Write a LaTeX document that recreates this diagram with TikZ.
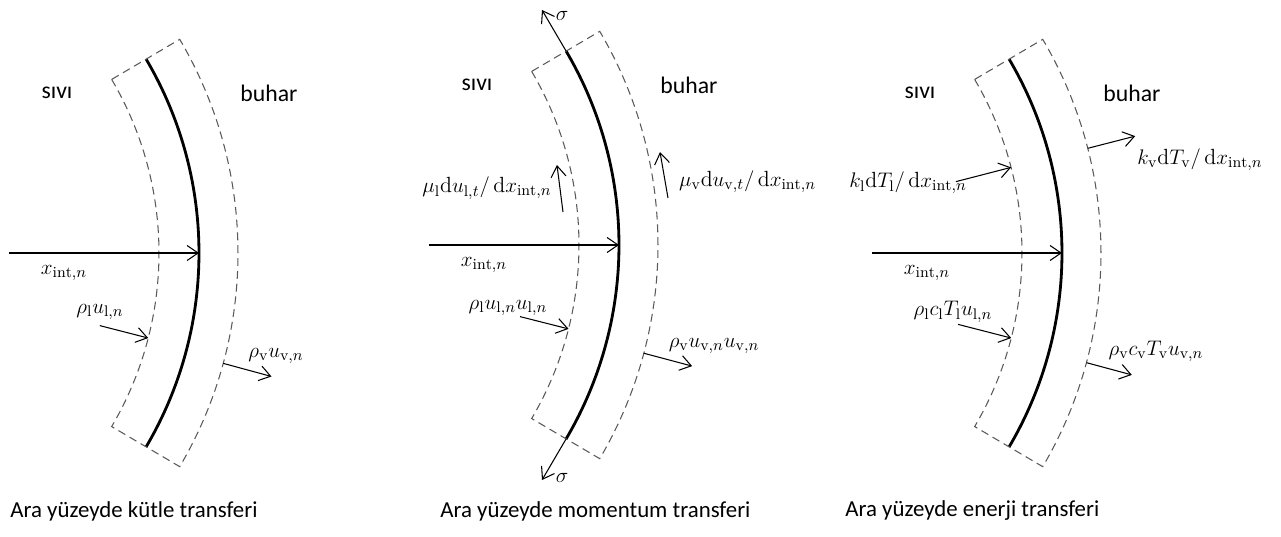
\documentclass[tikz,border=0pt]{standalone}
\usepackage{amsmath}
\usepackage{fontspec}
\setsansfont{Carlito}
\usetikzlibrary{arrows.meta}

\begin{document}
\begin{tikzpicture}[
    iface/.style={line width=1.6pt},
    ctrl/.style={draw=black!65, line width=0.6pt, dash pattern=on 4.5pt off 2.8pt},
    e/.style={-{Straight Barb[length=2.2mm, width=3mm]}, line width=0.6pt},
    lbl/.style={font=\fontsize{12.5}{15}\selectfont, inner sep=1pt},
    phase/.style={font=\sffamily\fontsize{13.5}{16}\selectfont},
    capt/.style={font=\sffamily\fontsize{13}{15}\selectfont, anchor=west, inner sep=0pt},
  ]
  \useasboundingbox (0,0) rectangle (25.62,-10.74);
  \coordinate (c1) at (-3.66,-5.06);
  \coordinate (c2) at (4.74,-4.90);
  \coordinate (c3) at (13.60,-5.06);

  % interface, control volume and normal distance, same in all three panels
  \foreach \p in {1,2,3} {
    \begin{scope}[shift={(c\p)}]
      \draw[iface] (30.5:7.64) arc[start angle=30.5, end angle=-30.5, radius=7.64];
      \draw[ctrl] (30.5:6.84) arc[start angle=30.5, end angle=-30.5, radius=6.84]
        -- (-30.5:8.42) arc[start angle=-30.5, end angle=30.5, radius=8.42] -- cycle;
      \coordinate (in\p) at (3.84,0);
      \coordinate (ap\p) at (7.64,0);
      \draw[e] (in\p) -- (ap\p);
      \node[lbl] (xi\p) at (4.94,-0.40) {$x_{\mathrm{int},n}$};
      \node[phase] (liq\p) at (4.80,3.20) {sıvı};
      \node[phase] (vap\p) at (9.04,3.20) {buhar};
    \end{scope}
  }

  % mass
  \begin{scope}[shift={(c1)}]
    \coordinate (ml0) at (-14.4:5.84);
    \coordinate (ml1) at (-14.4:6.84);
    \coordinate (mv0) at (-15.2:8.42);
    \coordinate (mv1) at (-15.2:9.42);
    \draw[e] (ml0) -- (ml1);
    \draw[e] (mv0) -- (mv1);
    \node[lbl] (mll) at (5.66,-1.18) {$\rho_{\mathrm{l}}u_{\mathrm{l},n}$};
    \node[lbl] (mvl) at (9.18,-2.06) {$\rho_{\mathrm{v}}u_{\mathrm{v},n}$};
  \end{scope}

  % momentum
  \begin{scope}[shift={(c2)}]
    \coordinate (sa) at (30.5:7.64);
    \coordinate (sb) at (-30.5:7.64);
    \coordinate (st) at (6.10,4.70);
    \coordinate (ss) at (6.10,-4.70);
    \draw[e] (sa) -- (st);
    \draw[e] (sb) -- (ss);
    \node[lbl] (sgt) at (6.50,4.58) {$\sigma$};
    \node[lbl] (sgb) at (6.50,-4.66) {$\sigma$};
    \coordinate (tl0) at (6.52,0.66);
    \coordinate (tl1) at (6.40,1.60);
    \coordinate (tv0) at (8.62,0.94);
    \coordinate (tv1) at (8.46,1.86);
    \draw[e] (tl0) -- (tl1);
    \draw[e] (tv0) -- (tv1);
    \node[lbl] (tll) at (5.00,1.14)
      {$\mu_{\mathrm{l}}\mathrm{d}u_{\mathrm{l},t}/\,\mathrm{d}x_{\mathrm{int},n}$};
    \node[lbl, anchor=west] (tvl) at (8.80,1.26)
      {$\mu_{\mathrm{v}}\mathrm{d}u_{\mathrm{v},t}/\,\mathrm{d}x_{\mathrm{int},n}$};
    \coordinate (nl0) at (-14.2:5.84);
    \coordinate (nl1) at (-14.2:6.84);
    \coordinate (nv0) at (-14.9:8.42);
    \coordinate (nv1) at (-14.9:9.42);
    \draw[e] (nl0) -- (nl1);
    \draw[e] (nv0) -- (nv1);
    \node[lbl] (nll) at (5.42,-1.26) {$\rho_{\mathrm{l}}u_{\mathrm{l},n}u_{\mathrm{l},n}$};
    \node[lbl] (nvl) at (9.54,-2.02) {$\rho_{\mathrm{v}}u_{\mathrm{v},n}u_{\mathrm{v},n}$};
  \end{scope}

  % energy
  \begin{scope}[shift={(c3)}]
    \coordinate (kl0) at (14.5:5.70);
    \coordinate (kl1) at (14.5:6.84);
    \coordinate (kv0) at (14.4:8.42);
    \coordinate (kv1) at (14.4:9.40);
    \draw[e] (kl0) -- (kl1);
    \draw[e] (kv0) -- (kv1);
    \node[lbl] (kll) at (4.56,1.40)
      {$k_{\mathrm{l}}\mathrm{d}T_{\mathrm{l}}/\,\mathrm{d}x_{\mathrm{int},n}$};
    \node[lbl] (kvl) at (10.40,1.86)
      {$k_{\mathrm{v}}\mathrm{d}T_{\mathrm{v}}/\,\mathrm{d}x_{\mathrm{int},n}$};
    \coordinate (hl0) at (-14.4:5.74);
    \coordinate (hl1) at (-14.4:6.84);
    \coordinate (hv0) at (-15.1:8.42);
    \coordinate (hv1) at (-15.1:9.36);
    \draw[e] (hl0) -- (hl1);
    \draw[e] (hv0) -- (hv1);
    \node[lbl] (hll) at (5.46,-1.18) {$\rho_{\mathrm{l}}c_{\mathrm{l}}T_{\mathrm{l}}u_{\mathrm{l},n}$};
    \node[lbl] (hvl) at (9.52,-1.96) {$\rho_{\mathrm{v}}c_{\mathrm{v}}T_{\mathrm{v}}u_{\mathrm{v},n}$};
  \end{scope}

  \node[capt] (cap1) at (0.20,-10.22) {Ara yüzeyde kütle transferi};
  \node[capt] (cap2) at (8.80,-10.22) {Ara yüzeyde momentum transferi};
  \node[capt] (cap3) at (16.90,-10.22) {Ara yüzeyde enerji transferi};
\end{tikzpicture}
\end{document}
